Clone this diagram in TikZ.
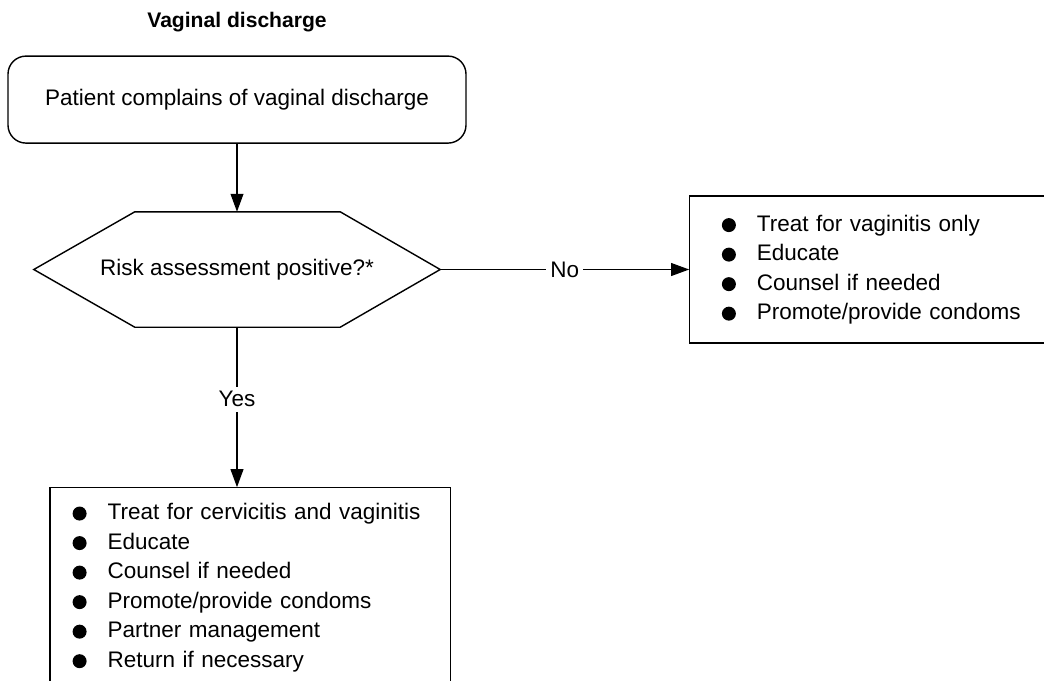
\documentclass[tikz,border=0pt]{standalone}
\usepackage{fontspec}
\setmainfont{Liberation Sans}
\usetikzlibrary{positioning,arrows.meta}
\newcommand{\dotmark}{\makebox[0.875cm][l]{\tikz[baseline=-0.5ex]\fill (0,0) circle (0.175cm);}}

\begin{document}
\begin{tikzpicture}[line width=1pt, font=\fontsize{16}{21}\selectfont,
        arr/.style={-{Triangle[length=0.45cm,width=0.32cm]}},
        listbox/.style={draw, align=left, inner ysep=0pt}]
        \useasboundingbox (0,0) rectangle (26.1,-17);
        \node[font=\fontsize{15}{18}\selectfont\bfseries] (title) at (5.925,-0.55) {Vaginal discharge};
        \node[draw, rounded corners=0.45cm, minimum width=11.45cm, minimum height=2.175cm] (start) at (5.925,-2.49) {Patient complains of vaginal discharge};
        \node[minimum width=10.125cm, minimum height=2.85cm, below=1.7cm of start] (risk) {Risk assessment positive?*};
        \draw (risk.west) -- ([xshift=2.525cm]risk.north west) -- ([xshift=-2.5cm]risk.north east) -- (risk.east) -- ([xshift=-2.5cm]risk.south east) -- ([xshift=2.525cm]risk.south west) -- cycle;
        \node[listbox, right=6.225cm of risk, text width=9cm, inner xsep=0.81cm, minimum height=3.675cm] (vagonly) {\dotmark Treat for vaginitis only\\ \dotmark Educate\\ \dotmark Counsel if needed\\ \dotmark Promote/provide condoms};
        \node[listbox, below=4cm of risk, xshift=0.33cm, text width=8.88cm, inner xsep=0.56cm, minimum height=5cm] (cervvag) {\dotmark Treat for cervicitis and vaginitis\\ \dotmark Educate\\ \dotmark Counsel if needed\\ \dotmark Promote/provide condoms\\ \dotmark Partner management\\ \dotmark Return if necessary};
        \draw[arr] (start) -- (risk);
        \draw[arr] (risk.east) -- node[fill=white, inner xsep=3pt] {No} (vagonly.west);
        \draw[arr] (risk.south) -- node[fill=white, pos=0.45] {Yes} (risk.south |- cervvag.north);
\end{tikzpicture}
\end{document}
